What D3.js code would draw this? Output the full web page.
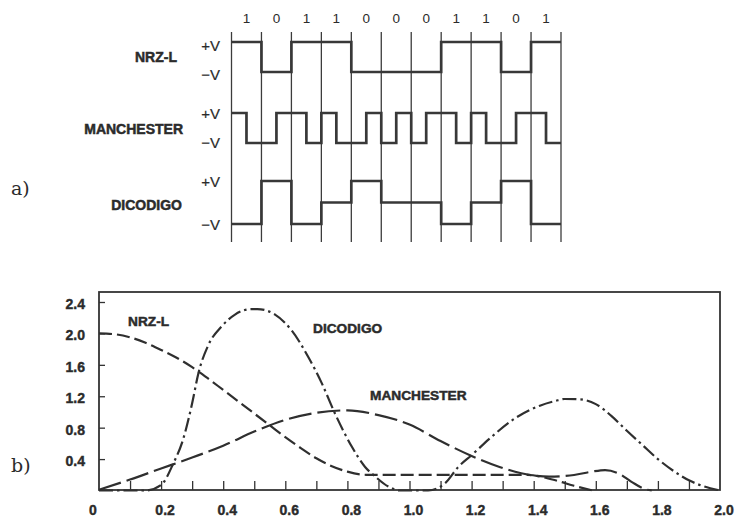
<!DOCTYPE html>
<html><head><meta charset="utf-8">
<script src="https://cdn.jsdelivr.net/npm/d3@7"></script>
<style>body{margin:0;background:#fff} svg{display:block}</style>
</head><body><svg id="c" width="738" height="517"></svg>
<script>
// ---------- data ----------
const bits = [1,0,1,1,0,0,0,1,1,0,1];
const dicodigoLevels = [-1,1,-1,0,1,0,0,-1,0,1,-1];
const codeNames = ["NRZ-L","MANCHESTER","DICODIGO"];
const levelLabels = ["+V","\u2212V"];
const panelLabels = ["a)","b)"];
const xTickLabels = [0,0.2,0.4,0.6,0.8,1.0,1.2,1.4,1.6,1.8,2.0];
const xMinorTicks = [0.1,0.2,0.3,0.4,0.5,0.6,0.7,0.8,0.9,1.0,1.1,1.2,1.3,1.4,1.5,1.6,1.7,1.8,1.9];
const yTickLabels = [0.4,0.8,1.2,1.6,2.0,2.4];
const nrzPsd = [[0,2.0],[0.05,1.99],[0.1,1.95],[0.15,1.88],[0.2,1.79],[0.25,1.69],[0.3,1.57],[0.35,1.43],[0.4,1.28],[0.45,1.13],[0.5,0.98],[0.55,0.83],[0.6,0.68],[0.65,0.54],[0.7,0.41],[0.75,0.31],[0.8,0.24],[0.86,0.2],[1.0,0.2],[1.2,0.2],[1.38,0.2],[1.46,0.14],[1.53,0.06],[1.59,0]];
const manchesterPsd = [[0,0.01],[0.1,0.14],[0.2,0.28],[0.3,0.42],[0.4,0.57],[0.5,0.75],[0.6,0.9],[0.7,0.99],[0.8,1.02],[0.9,0.96],[1.0,0.84],[1.1,0.63],[1.2,0.44],[1.29,0.3],[1.36,0.22],[1.45,0.176],[1.53,0.197],[1.587,0.24],[1.63,0.26],[1.672,0.22],[1.715,0.11],[1.76,0.015],[1.78,0]];
const dicodigoPsd = [[0,0],[0.15,0],[0.2,0.07],[0.24,0.35],[0.27,0.64],[0.3,1.11],[0.32,1.49],[0.352,1.85],[0.395,2.09],[0.438,2.24],[0.49,2.31],[0.51,2.31],[0.567,2.24],[0.62,2.04],[0.674,1.7],[0.717,1.37],[0.76,0.98],[0.814,0.56],[0.857,0.3],[0.889,0.18],[0.932,0.05],[0.97,0],[1.06,0],[1.114,0.09],[1.157,0.3],[1.2,0.45],[1.265,0.685],[1.34,0.92],[1.42,1.08],[1.47,1.14],[1.5,1.165],[1.55,1.16],[1.6,1.1],[1.65,0.95],[1.7,0.76],[1.75,0.58],[1.8,0.4],[1.85,0.25],[1.9,0.13],[1.95,0.05],[2.0,0]];

// ---------- drawing ----------
const svg = d3.select("#c");
const ink = "#2b2b2b";
const boldFont = "'Liberation Sans', Arial, sans-serif";

// Panel a) waveforms
const xb = d3.scaleLinear().domain([0, bits.length]).range([231.5, 561]);
svg.append("g").selectAll("line").data(d3.range(bits.length + 1)).join("line")
  .attr("x1", d => xb(d)).attr("x2", d => xb(d))
  .attr("y1", 32).attr("y2", 242)
  .attr("stroke", "#3c3c3c").attr("stroke-width", 1.3);

svg.append("g").selectAll("text").data(bits).join("text")
  .attr("x", (d, i) => xb(i + 0.5)).attr("y", 18.7)
  .attr("text-anchor", "middle").attr("dominant-baseline", "central")
  .attr("font-family", boldFont).attr("font-size", 13.5).attr("fill", ink)
  .text(d => d);

const nrzPts = bits.map((b, i) => [i, b ? 1 : -1]);
nrzPts.push([bits.length, nrzPts[nrzPts.length - 1][1]]);
const manPts = bits.flatMap((b, i) => [[i, b ? 1 : -1], [i + 0.5, b ? -1 : 1]]);
manPts.push([bits.length, manPts[manPts.length - 1][1]]);
const dicPts = dicodigoLevels.map((v, i) => [i, v]);
dicPts.push([bits.length, dicPts[dicPts.length - 1][1]]);

const rows = [
  {name: codeNames[0], pts: nrzPts, top: 42, bot: 72, nameY: 57, nameX: 177, pY: 45.8, mY: 74},
  {name: codeNames[1], pts: manPts, top: 113, bot: 143, nameY: 129, nameX: 183, pY: 113, mY: 142.5},
  {name: codeNames[2], pts: dicPts, top: 181, bot: 224, nameY: 205, nameX: 182, pY: 181.7, mY: 224}
];
rows.forEach(r => {
  const ys = d3.scaleLinear().domain([-1, 1]).range([r.bot, r.top]);
  const line = d3.line().x(d => xb(d[0])).y(d => ys(d[1])).curve(d3.curveStepAfter);
  svg.append("path").attr("d", line(r.pts)).attr("fill", "none")
    .attr("stroke", "#383838").attr("stroke-width", 2.7).attr("stroke-linejoin", "miter");
  svg.append("text").attr("x", r.nameX).attr("y", r.nameY)
    .attr("text-anchor", "end").attr("dominant-baseline", "central")
    .attr("font-family", boldFont).attr("font-weight", "bold").attr("font-size", 14)
    .attr("fill", ink).attr("stroke", ink).attr("stroke-width", 0.5)
    .text(r.name);
  [[levelLabels[0], r.pY], [levelLabels[1], r.mY]].forEach(([t, y]) => {
    svg.append("text").attr("x", 220).attr("y", y)
      .attr("text-anchor", "end").attr("dominant-baseline", "central")
      .attr("font-family", boldFont).attr("font-size", 15).attr("fill", ink)
      .attr("stroke", ink).attr("stroke-width", 0.2)
      .text(t);
  });
});

svg.append("text").attr("x", 11).attr("y", 188).attr("dominant-baseline", "central")
  .attr("font-family", "'DejaVu Serif', serif").attr("font-size", 19).attr("fill", ink)
  .text(panelLabels[0]);
svg.append("text").attr("x", 11).attr("y", 465).attr("dominant-baseline", "central")
  .attr("font-family", "'DejaVu Serif', serif").attr("font-size", 19).attr("fill", ink)
  .text(panelLabels[1]);

// Panel b) spectra
const x = d3.scaleLinear().domain([0, 2]).range([99, 720]);
const y = d3.scaleLinear().domain([0, 2.4]).range([490.5, 302]);

svg.append("rect").attr("x", 99).attr("y", 292).attr("width", 621).attr("height", 198)
  .attr("fill", "none").attr("stroke", "#333").attr("stroke-width", 1.8);

svg.append("g").attr("transform", "translate(0,490)")
  .call(d3.axisBottom(x).tickValues(xMinorTicks).tickSize(-9).tickFormat(""))
  .call(g => g.select(".domain").remove())
  .call(g => g.selectAll("line").attr("stroke", "#333").attr("stroke-width", 1.3));
svg.append("g").attr("transform", "translate(99,0)")
  .call(d3.axisLeft(y).tickValues(yTickLabels).tickSize(-6).tickFormat(""))
  .call(g => g.select(".domain").remove())
  .call(g => g.selectAll("line").attr("stroke", "#333").attr("stroke-width", 1.3));

svg.append("g").selectAll("text").data(xTickLabels).join("text")
  .attr("x", d => x(d) + (d === 0 ? -6 : 4)).attr("y", 510)
  .attr("text-anchor", "middle").attr("dominant-baseline", "central")
  .attr("font-family", boldFont).attr("font-weight", "bold").attr("font-size", 14)
  .attr("fill", ink).attr("stroke", ink).attr("stroke-width", 0.4)
  .text(d => d === 0 ? "0" : d.toFixed(1));
svg.append("g").selectAll("text").data(yTickLabels).join("text")
  .attr("x", 85).attr("y", d => y(d) + 2)
  .attr("text-anchor", "end").attr("dominant-baseline", "central")
  .attr("font-family", boldFont).attr("font-weight", "bold").attr("font-size", 14)
  .attr("fill", ink).attr("stroke", ink).attr("stroke-width", 0.4)
  .text(d => d.toFixed(1));

const curve = d3.line().x(d => x(d[0])).y(d => y(d[1])).curve(d3.curveMonotoneX);
[[nrzPsd, "13,5"], [manchesterPsd, "23,6"], [dicodigoPsd, "14,4,2.5,4"]].forEach(([data, dash]) => {
  svg.append("path").attr("d", curve(data)).attr("fill", "none")
    .attr("stroke", "#2f2f2f").attr("stroke-width", 2.2).attr("stroke-dasharray", dash);
});

[[codeNames[0], 128, 321.7], [codeNames[2], 313, 328], [codeNames[1], 370, 395]].forEach(([t, px, py]) => {
  svg.append("text").attr("x", px).attr("y", py).attr("dominant-baseline", "central")
    .attr("font-family", boldFont).attr("font-weight", "bold").attr("font-size", 13.7)
    .attr("fill", ink).attr("stroke", ink).attr("stroke-width", 0.5)
    .text(t);
});
</script>
</body></html>
